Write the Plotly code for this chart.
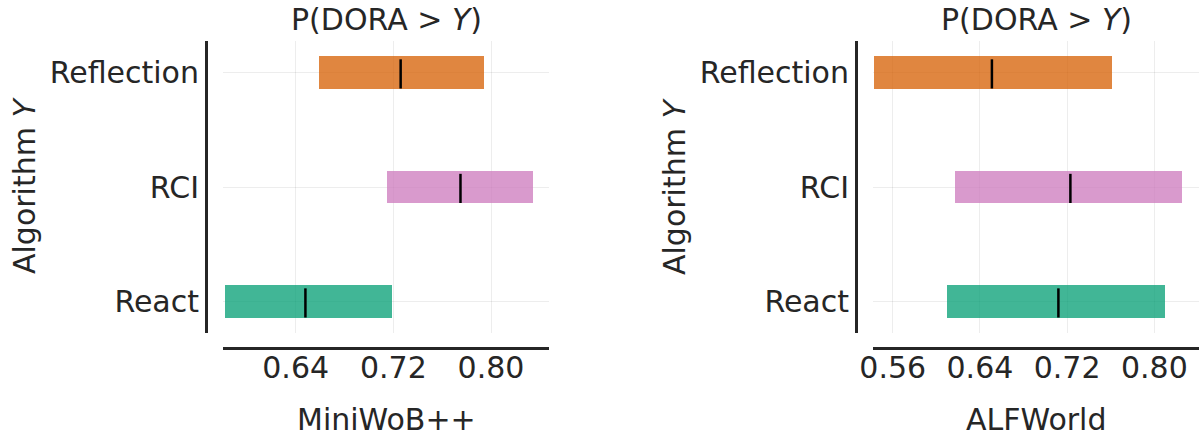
import plotly.graph_objects as go

# Algorithms compared against DORA (bottom to top)
algorithms = ["React", "RCI", "Reflection"]

# Interval of P(DORA > Y) per benchmark: lower bound, upper bound, point estimate
miniwob_low = [0.582, 0.715, 0.659]
miniwob_high = [0.719, 0.834, 0.794]
miniwob_mid = [0.648, 0.775, 0.726]

alfworld_low = [0.610, 0.617, 0.543]
alfworld_high = [0.810, 0.825, 0.761]
alfworld_mid = [0.712, 0.723, 0.651]

bar_colors = ["rgba(2,158,115,0.75)", "rgba(204,120,188,0.75)", "rgba(213,94,0,0.75)"]

W, H = 1202, 438
FONT = "DejaVu Sans"
INK = "#262626"
FS = 30


def px_x(p):
    return p / W


def px_y(p):
    return 1 - p / H


fig = go.Figure()

panels = [
    ("x", "y", miniwob_low, miniwob_high, miniwob_mid),
    ("x2", "y2", alfworld_low, alfworld_high, alfworld_mid),
]

for xa, ya, low, high, mid in panels:
    fig.add_trace(go.Bar(
        y=list(range(len(algorithms))),
        x=[h - l for l, h in zip(low, high)],
        base=low,
        orientation="h",
        width=0.28,
        marker=dict(color=bar_colors, line=dict(width=0)),
        xaxis=xa, yaxis=ya, showlegend=False, hoverinfo="skip",
    ))
    mx, my = [], []
    for i, m in enumerate(mid):
        mx += [m, m, None]
        my += [i - 0.14, i + 0.115, None]
    fig.add_trace(go.Scatter(
        x=mx, y=my, mode="lines",
        line=dict(color="black", width=2.5),
        xaxis=xa, yaxis=ya, showlegend=False, hoverinfo="skip",
    ))

grid = "rgba(0,0,0,0.07)"
axis_common = dict(
    showline=True, linecolor=INK, linewidth=3,
    showgrid=True, gridcolor=grid, gridwidth=1,
    zeroline=False, ticks="", automargin=False,
    tickfont=dict(family=FONT, size=FS, color=INK),
)

ydom = [px_y(333), px_y(41)]
x1dom = [px_x(223), px_x(549)]
x2dom = [px_x(873), px_x(1199)]

fig.update_layout(
    width=W, height=H,
    margin=dict(l=0, r=0, t=0, b=0),
    paper_bgcolor="white", plot_bgcolor="white",
    bargap=0,
    xaxis=dict(domain=x1dom, range=[0.5805, 0.8475], anchor="free", position=px_y(348),
               tickvals=[0.64, 0.72, 0.80], ticktext=["0.64", "0.72", "0.80"],
               ticklabelstandoff=-8, **axis_common),
    xaxis2=dict(domain=x2dom, range=[0.5419, 0.841], anchor="free", position=px_y(348),
                tickvals=[0.56, 0.64, 0.72, 0.80], ticktext=["0.56", "0.64", "0.72", "0.80"],
                ticklabelstandoff=-8, **axis_common),
    yaxis=dict(domain=ydom, range=[-0.275, 2.275], anchor="free", position=px_x(206),
               tickvals=[0, 1, 2], ticktext=algorithms, ticklabelstandoff=0, **axis_common),
    yaxis2=dict(domain=ydom, range=[-0.275, 2.275], anchor="free", position=px_x(856),
                tickvals=[0, 1, 2], ticktext=algorithms, ticklabelstandoff=0, **axis_common),
)

text_font = dict(family=FONT, size=FS, color=INK)
notes = [
    ((223 + 549) / 2, 19, "P(DORA > <i>Y</i>)", 0),
    ((873 + 1199) / 2, 19, "P(DORA > <i>Y</i>)", 0),
    ((223 + 549) / 2, 419, "MiniWoB++", 0),
    ((873 + 1199) / 2, 419, "ALFWorld", 0),
    (25, 186, "Algorithm <i>Y</i>", -90),
    (675, 186, "Algorithm <i>Y</i>", -90),
]
for x, y, t, ang in notes:
    fig.add_annotation(
        x=px_x(x), y=px_y(y), xref="paper", yref="paper",
        text=t, showarrow=False, textangle=ang,
        xanchor="center", yanchor="middle", font=text_font,
    )

fig.write_html("out.html")
